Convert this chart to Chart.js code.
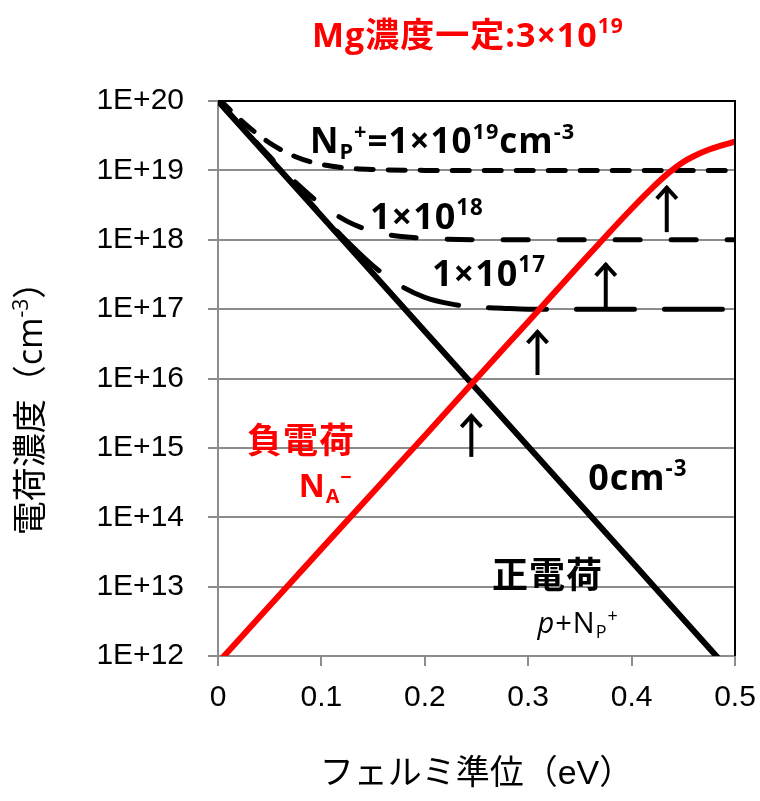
<!DOCTYPE html>
<html>
<head>
<meta charset="utf-8">
<script src="https://cdn.jsdelivr.net/npm/chart.js@4"></script>
<style>
  body { margin: 0; background: #fff; }
  #wrap { width: 760px; height: 801px; }
</style>
</head>
<body>
<div id="wrap"><canvas id="chart" width="760" height="801"></canvas></div>
<script>
// Fermi level (eV) and charge densities (cm^-3)
const efHoles = [0, 0.1, 0.2, 0.3, 0.4, 0.5];
const holes = [1e20, 2.2e18, 4.8e16, 1.05e15, 2.3e13, 5.0e11];

const efAcceptor = [0, 0.05, 0.1, 0.15, 0.2, 0.25, 0.3, 0.35, 0.38, 0.4, 0.42, 0.437, 0.45, 0.46, 0.475, 0.5];
const acceptorMinus = [8.0e11, 5.3e12, 3.5e13, 2.3e14, 1.5e15, 1.0e16, 6.6e16, 4.4e17, 1.35e18, 2.8e18, 5.6e18, 9.5e18, 1.32e19, 1.6e19, 2.0e19, 2.6e19];

const efNp19 = [0, 0.025, 0.05, 0.075, 0.1, 0.125, 0.15, 0.2, 0.3, 0.4, 0.5];
const np19 = [1.1e20, 4.85e19, 2.48e19, 1.57e19, 1.22e19, 1.08e19, 1.03e19, 1.0e19, 1.0e19, 1.0e19, 1.0e19];

const efNp18 = [0, 0.05, 0.075, 0.1, 0.125, 0.15, 0.175, 0.2, 0.25, 0.3, 0.4, 0.5];
const np18 = [1.01e20, 1.58e19, 6.7e18, 3.2e18, 1.84e18, 1.32e18, 1.12e18, 1.05e18, 1.0e18, 1.0e18, 1.0e18, 1.0e18];

const efNp17 = [0, 0.1, 0.125, 0.15, 0.175, 0.2, 0.225, 0.25, 0.275, 0.3, 0.4, 0.5];
const np17 = [1.0e20, 2.3e18, 9.4e17, 4.2e17, 2.24e17, 1.48e17, 1.19e17, 1.07e17, 1.03e17, 1.0e17, 1.0e17, 1.0e17];

const yExponents = [12, 13, 14, 15, 16, 17, 18, 19, 20];

const pts = (xs, ys) => xs.map((x, i) => ({ x: x, y: ys[i] }));

// text labels: x in eV, y as log10 of density (baseline, left aligned)
const JP = "'Open Sans', 'Noto Sans CJK JP', sans-serif";
const labels = [
  { x: 0.089, y: 19.25, size: 35, color: '#000', bold: true,
    parts: [['N'], ['P', 'sub'], ['+', 'sup'], ['=1×10'], ['19', 'sup'], ['cm'], ['-3', 'sup']] },
  { x: 0.147, y: 18.15, size: 36, color: '#000', bold: true, parts: [['1×10'], ['18', 'sup']] },
  { x: 0.207, y: 17.33, size: 36, color: '#000', bold: true, parts: [['1×10'], ['17', 'sup']] },
  { x: 0.028, y: 14.93, size: 35, color: '#ff0000', bold: true, parts: [['負電荷']] },
  { x: 0.078, y: 14.29, size: 32, color: '#ff0000', bold: true, parts: [['N'], ['A', 'sub'], ['−', 'sup']] },
  { x: 0.358, y: 14.39, size: 36, color: '#000', bold: true, parts: [['0cm'], ['-3', 'sup']] },
  { x: 0.265, y: 12.98, size: 36, color: '#000', bold: true, parts: [['正電荷']] },
  { x: 0.309, y: 12.33, size: 29, color: '#000', bold: false, parts: [['p', 'it'], ['+N'], ['P', 'sub'], ['+', 'sup']] }
];

// arrows: x in eV, from / to as log10 of density
const arrows = [
  { x: 0.245, from: 14.87, to: 15.49 },
  { x: 0.309, from: 16.05, to: 16.70 },
  { x: 0.375, from: 17.02, to: 17.67 },
  { x: 0.434, from: 18.11, to: 18.78 }
];

function setFont(ctx, p, size, bold) {
  const s = p[1] === 'sup' || p[1] === 'sub' ? size * 0.62 : size;
  ctx.font = (p[1] === 'it' ? 'italic ' : '') + (bold ? 'bold ' : '') + s + 'px ' + JP;
}

function richWidth(ctx, parts, size, bold) {
  let w = 0;
  parts.forEach(p => {
    setFont(ctx, p, size, bold);
    w += ctx.measureText(p[0]).width;
  });
  return w;
}

function drawRich(ctx, parts, x, y, size, color, bold) {
  ctx.fillStyle = color;
  ctx.textBaseline = 'alphabetic';
  ctx.textAlign = 'left';
  let cx = x;
  parts.forEach(p => {
    let dy = 0;
    if (p[1] === 'sup') dy = -size * 0.4;
    if (p[1] === 'sub') dy = size * 0.18;
    setFont(ctx, p, size, bold);
    ctx.fillText(p[0], cx, y + dy);
    cx += ctx.measureText(p[0]).width;
  });
}

const decorations = {
  id: 'decorations',
  afterDatasetsDraw(chart) {
    const ctx = chart.ctx;
    const xs = chart.scales.x, ys = chart.scales.y;
    const area = chart.chartArea;
    ctx.save();

    // top and right frame
    ctx.strokeStyle = '#000';
    ctx.lineWidth = 2;
    ctx.beginPath();
    ctx.moveTo(area.left, area.top);
    ctx.lineTo(area.right, area.top);
    ctx.lineTo(area.right, area.bottom);
    ctx.stroke();

    // arrows
    ctx.lineWidth = 4;
    ctx.lineCap = 'butt';
    ctx.lineJoin = 'miter';
    arrows.forEach(a => {
      const px = xs.getPixelForValue(a.x);
      const y0 = ys.getPixelForValue(Math.pow(10, a.from));
      const y1 = ys.getPixelForValue(Math.pow(10, a.to));
      ctx.beginPath();
      ctx.moveTo(px, y0);
      ctx.lineTo(px, y1 + 1);
      ctx.stroke();
      ctx.beginPath();
      ctx.moveTo(px - 10, y1 + 13);
      ctx.lineTo(px, y1 + 2);
      ctx.lineTo(px + 10, y1 + 13);
      ctx.stroke();
    });

    // labels
    if ('letterSpacing' in ctx) ctx.letterSpacing = '1px';
    labels.forEach(l => {
      drawRich(ctx, l.parts, xs.getPixelForValue(l.x), ys.getPixelForValue(Math.pow(10, l.y)), l.size, l.color, l.bold);
    });

    // chart title
    const tParts = [['Mg濃度一定:3×10'], ['19', 'sup']];
    drawRich(ctx, tParts, 312, 47, 34, '#ff0000', true);
    if ('letterSpacing' in ctx) ctx.letterSpacing = '0px';

    // y axis title (rotated)
    const yParts = [['電荷濃度（cm'], ['-3', 'sup'], ['）']];
    ctx.translate(42, 400);
    ctx.rotate(-Math.PI / 2);
    const w = richWidth(ctx, yParts, 34, false);
    drawRich(ctx, yParts, -w / 2, 0, 34, '#000', false);
    ctx.restore();
  }
};

const tickFont = { family: "'Liberation Sans', sans-serif", size: 30 };

new Chart(document.getElementById('chart'), {
  type: 'line',
  data: {
    datasets: [
      { label: 'Np 1e19', data: pts(efNp19, np19), borderColor: '#000', borderWidth: 5,
        borderDash: [17, 15], borderCapStyle: 'round', cubicInterpolationMode: 'monotone', pointRadius: 0, order: 3 },
      { label: 'Np 1e18', data: pts(efNp18, np18), borderColor: '#000', borderWidth: 5,
        borderDash: [25, 31], borderCapStyle: 'round', cubicInterpolationMode: 'monotone', pointRadius: 0, order: 3 },
      { label: 'Np 1e17', data: pts(efNp17, np17), borderColor: '#000', borderWidth: 5,
        borderDash: [58, 30], borderCapStyle: 'round', cubicInterpolationMode: 'monotone', pointRadius: 0, order: 3 },
      { label: 'p', data: pts(efHoles, holes), borderColor: '#000', borderWidth: 6,
        pointRadius: 0, order: 2 },
      { label: 'NA-', data: pts(efAcceptor, acceptorMinus), borderColor: '#ff0000', borderWidth: 6,
        cubicInterpolationMode: 'monotone', pointRadius: 0, order: 1 }
    ]
  },
  options: {
    responsive: false,
    animation: false,
    layout: { padding: { top: 101, right: 25, left: 0, bottom: 0 } },
    plugins: {
      legend: { display: false },
      tooltip: { enabled: false }
    },
    scales: {
      x: {
        type: 'linear',
        min: 0,
        max: 0.5,
        afterFit: scale => { scale.height = 145; scale.paddingLeft = 0; scale.paddingRight = 0; },
        ticks: {
          stepSize: 0.1,
          font: tickFont,
          color: '#000',
          padding: 14,
          maxRotation: 0,
          callback: v => String(+v.toFixed(1))
        },
        grid: { drawOnChartArea: false, tickLength: 10, color: '#8c8c8c', lineWidth: 2 },
        border: { color: '#8c8c8c', width: 2 },
        title: {
          display: true,
          text: 'フェルミ準位（eV）',
          color: '#000',
          font: { family: "'Liberation Sans', 'Noto Sans CJK JP', sans-serif", size: 34 },
          padding: { top: 0, bottom: 6 }
        }
      },
      y: {
        type: 'logarithmic',
        min: 1e12,
        max: 1e20,
        afterFit: scale => { scale.width = 218; },
        afterBuildTicks: scale => { scale.ticks = yExponents.map(e => ({ value: Math.pow(10, e) })); },
        ticks: {
          font: tickFont,
          color: '#000',
          padding: 24,
          callback: v => '1E+' + Math.round(Math.log10(v))
        },
        grid: { tickLength: 10, color: '#8c8c8c', lineWidth: 2 },
        border: { color: '#8c8c8c', width: 2 }
      }
    }
  },
  plugins: [decorations]
});
</script>
</body>
</html>
